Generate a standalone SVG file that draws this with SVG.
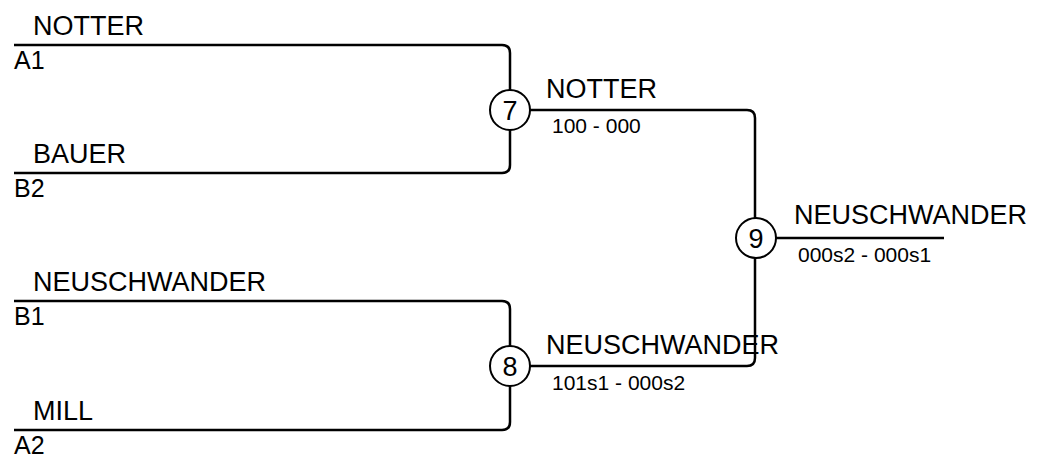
<svg xmlns="http://www.w3.org/2000/svg" width="1043" height="457" viewBox="0 0 1043 457">
<style>
.ln{fill:none;stroke:#000;stroke-width:2.5}
.c{fill:#fff;stroke:#000;stroke-width:2}
.t{font-family:"Liberation Sans",Arial,sans-serif;font-size:27px;fill:#000}
.d{font-family:"Liberation Sans",Arial,sans-serif;font-size:25px;fill:#000}
.s{font-family:"Liberation Sans",Arial,sans-serif;font-size:21px;fill:#000}
.n{font-family:"Liberation Sans",Arial,sans-serif;font-size:27px;fill:#000;text-anchor:middle}
</style>
<rect width="1043" height="457" fill="#fff"/>
<g id="connectors">
<path class="ln" d="M14,45 H502 Q510,45 510,53 V90"/>
<path class="ln" d="M510,130 V165 Q510,173 502,173 H14"/>
<path class="ln" d="M530,110 H747 Q755,110 755,118 V218"/>
<path class="ln" d="M14,301 H502 Q510,301 510,309 V346"/>
<path class="ln" d="M510,386 V422 Q510,430 502,430 H14"/>
<path class="ln" d="M530,366 H747 Q755,366 755,358 V258"/>
<path class="ln" d="M776,238 H944"/>
</g>
<g id="seed-A1"><text class="t" x="33" y="35">NOTTER</text><text class="d" x="14" y="69">A1</text></g>
<g id="seed-B2"><text class="t" x="33" y="163">BAUER</text><text class="d" x="14" y="197">B2</text></g>
<g id="seed-B1"><text class="t" x="33" y="291">NEUSCHWANDER</text><text class="d" x="14" y="325">B1</text></g>
<g id="seed-A2"><text class="t" x="33" y="420">MILL</text><text class="d" x="14" y="454">A2</text></g>
<g id="match-7"><circle class="c" cx="510" cy="110" r="20"/><text class="n" x="510" y="120">7</text><text class="t" x="546" y="98">NOTTER</text><text class="s" x="552" y="133">100 - 000</text></g>
<g id="match-8"><circle class="c" cx="510" cy="366" r="20"/><text class="n" x="510" y="376">8</text><text class="t" x="546" y="354">NEUSCHWANDER</text><text class="s" x="552" y="390">101s1 - 000s2</text></g>
<g id="match-9"><circle class="c" cx="756" cy="238" r="20"/><text class="n" x="756" y="248">9</text><text class="t" x="794" y="224">NEUSCHWANDER</text><text class="s" x="798" y="262">000s2 - 000s1</text></g>
</svg>
